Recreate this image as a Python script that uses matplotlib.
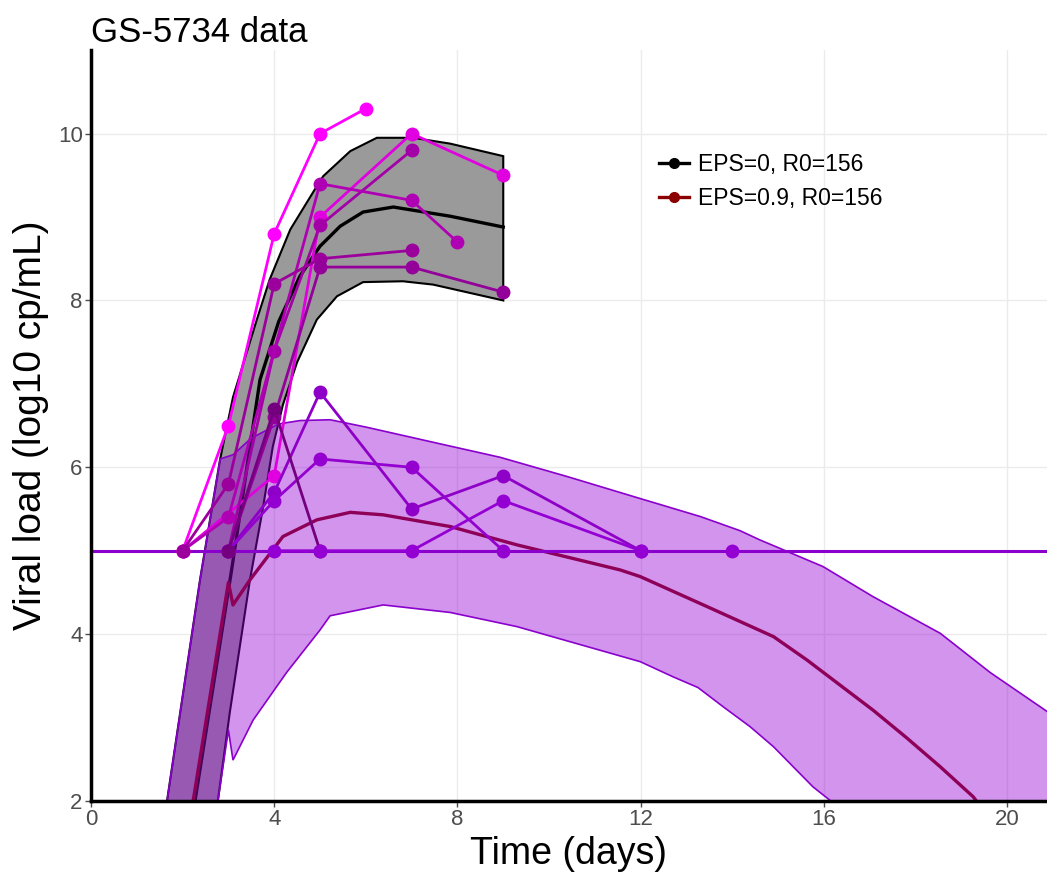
import matplotlib
matplotlib.use("Agg")
import matplotlib.pyplot as plt
import numpy as np

plt.rcParams['font.family'] = ['Liberation Sans', 'DejaVu Sans']

# model band, EPS=0 (upper / lower edge)
eps0_up_t = [1.39, 1.66, 2.38, 2.82, 3.1, 3.62, 3.9, 4.35, 4.93, 5.07, 5.66, 6.24, 7.03, 7.84, 9.0]
eps0_up_v = [1.0, 2.0, 4.65, 6.1, 6.84, 7.77, 8.25, 8.85, 9.37, 9.49, 9.79, 9.95, 9.95, 9.88, 9.73]
eps0_lo_t = [2.53, 2.77, 3.03, 3.47, 3.76, 3.97, 4.19, 4.5, 4.93, 5.37, 5.94, 6.81, 7.47, 9.0]
eps0_lo_v = [1.0, 2.0, 3.06, 4.65, 5.53, 6.25, 6.75, 7.26, 7.77, 8.05, 8.22, 8.23, 8.19, 8.0]
eps0_mid_t = [1.94, 2.27, 3.07, 3.69, 4.1, 4.56, 5.0, 5.44, 5.94, 6.6, 7.84, 9.0]
eps0_mid_v = [1.0, 2.0, 4.77, 7.05, 7.75, 8.29, 8.65, 8.89, 9.06, 9.12, 9.01, 8.88]

# model band, EPS=0.9
eps9_up_t = [1.39, 1.66, 2.38, 2.82, 3.1, 3.5, 4.1, 4.56, 5.22, 6.02, 7.47, 8.93, 10.39,
             11.84, 13.3, 14.17, 14.6, 15.98, 17.07, 18.54, 19.63, 20.72, 21.2]
eps9_up_v = [1.0, 2.0, 4.65, 6.1, 6.15, 6.35, 6.52, 6.56, 6.57, 6.48, 6.3, 6.12, 5.89,
             5.65, 5.41, 5.24, 5.13, 4.81, 4.45, 4.01, 3.54, 3.13, 2.95]
eps9_lo_t = [2.53, 2.77, 3.0, 3.1, 3.54, 4.27, 5.0, 5.22, 6.38, 7.84, 9.3, 11.99, 12.7,
             13.25, 13.8, 14.39, 14.9, 15.33, 15.76, 16.15, 16.5, 21.2]
eps9_lo_v = [1.0, 2.0, 2.85, 2.49, 2.97, 3.54, 4.05, 4.22, 4.35, 4.26, 4.09, 3.67, 3.49,
             3.36, 3.13, 2.89, 2.65, 2.41, 2.17, 2.0, 1.7, 1.0]
eps9_mid_t = [1.94, 2.23, 3.0, 3.1, 3.47, 4.19, 4.93, 5.66, 6.38, 7.84, 9.3, 11.55, 11.99,
              13.45, 14.9, 15.63, 17.07, 17.8, 18.54, 19.26, 19.6]
eps9_mid_v = [1.0, 2.0, 4.62, 4.35, 4.65, 5.17, 5.37, 5.46, 5.43, 5.29, 5.07, 4.77, 4.69,
              4.33, 3.97, 3.69, 3.09, 2.76, 2.41, 2.05, 1.8]

limit_of_detection = 5.0

# patient data (days, log10 viral load, colour)
patient_days = [
    [2, 3, 4, 5, 6],
    [2, 4, 5, 7, 9],
    [3, 4, 5, 7],
    [2, 3, 5, 7, 8],
    [2, 3, 4, 5, 7],
    [3, 4, 5, 7, 9],
    [3, 4, 5, 7, 9, 12],
    [3, 4, 5, 7, 9],
    [3, 4, 5],
    [4, 5, 7, 9, 12],
    [14],
]
patient_vl = [
    [5.0, 6.5, 8.8, 10.0, 10.3],
    [5.0, 5.9, 9.0, 10.0, 9.5],
    [5.0, 7.4, 8.9, 9.8],
    [5.0, 5.4, 9.4, 9.2, 8.7],
    [5.0, 5.8, 8.2, 8.5, 8.6],
    [5.0, 6.6, 8.4, 8.4, 8.1],
    [5.0, 5.7, 6.9, 5.5, 5.9, 5.0],
    [5.0, 5.6, 6.1, 6.0, 5.0],
    [5.0, 6.7, 5.0],
    [5.0, 5.0, 5.0, 5.6, 5.0],
    [5.0],
]
patient_col = ['#FF00FF', '#E000E0', '#A300A8', '#B000B4', '#9C009C', '#94009A',
               '#8E00C8', '#9400D0', '#740080', '#9400D3', '#9400D3']

legend_labels = ['EPS=0, R0=156', 'EPS=0.9, R0=156']

fig = plt.figure(figsize=(10.47, 8.73), dpi=100)
ax = fig.add_axes([0.0869, 0.0825, 0.9131, 0.86])

# EPS=0 ribbon
ax.fill(np.r_[eps0_up_t, eps0_lo_t[::-1]], np.r_[eps0_up_v, eps0_lo_v[::-1]],
        facecolor='#9A9A9A', edgecolor='black', linewidth=1.5, zorder=2)
ax.plot(eps0_mid_t, eps0_mid_v, color='black', lw=2.4, zorder=3)
ax.plot(eps9_mid_t, eps9_mid_v, color='#8B0000', lw=2.4, zorder=3)
# EPS=0.9 ribbon on top, translucent
ax.fill(np.r_[eps9_up_t, eps9_lo_t[::-1]], np.r_[eps9_up_v, eps9_lo_v[::-1]],
        facecolor=(0.58, 0.0, 0.83, 0.42), edgecolor='#8A00CC', linewidth=1.2, zorder=4)

ax.axhline(limit_of_detection, color='#8A00CC', lw=2.2, zorder=5)

for d, v, c in zip(patient_days, patient_vl, patient_col):
    ax.plot(d, v, color=c, lw=2.0, marker='o', ms=9, zorder=6)

# legend proxies
h0, = ax.plot([], [], color='black', lw=2.4, marker='o', ms=7)
h9, = ax.plot([], [], color='#8B0000', lw=2.4, marker='o', ms=7)
ax.legend([h0, h9], legend_labels, loc='upper left', bbox_to_anchor=(0.585, 0.875),
          frameon=False, fontsize=16.5, handlelength=1.3, handletextpad=0.4,
          labelspacing=0.45, borderaxespad=0)

ax.set_xlim(0, 20.87)
ax.set_ylim(2, 11)
ax.set_xticks([0, 4, 8, 12, 16, 20])
ax.set_yticks([2, 4, 6, 8, 10])
ax.grid(True, color='#EBEBEB', lw=1.0, zorder=0)
ax.set_axisbelow(True)
for s in ['top', 'right']:
    ax.spines[s].set_visible(False)
for s in ['left', 'bottom']:
    ax.spines[s].set_linewidth(2.5)
    ax.spines[s].set_color('black')
    ax.spines[s].set_zorder(7)
ax.tick_params(axis='both', colors='#4D4D4D', labelsize=16, length=4, width=1, pad=2)

ax.set_xlabel('Time (days)', fontsize=27, labelpad=4)
ax.set_ylabel('Viral load (log10 cp/mL)', fontsize=28, labelpad=6)
ax.set_title('GS-5734 data', fontsize=25, loc='left', pad=6)

fig.savefig('out.png', dpi=100)
